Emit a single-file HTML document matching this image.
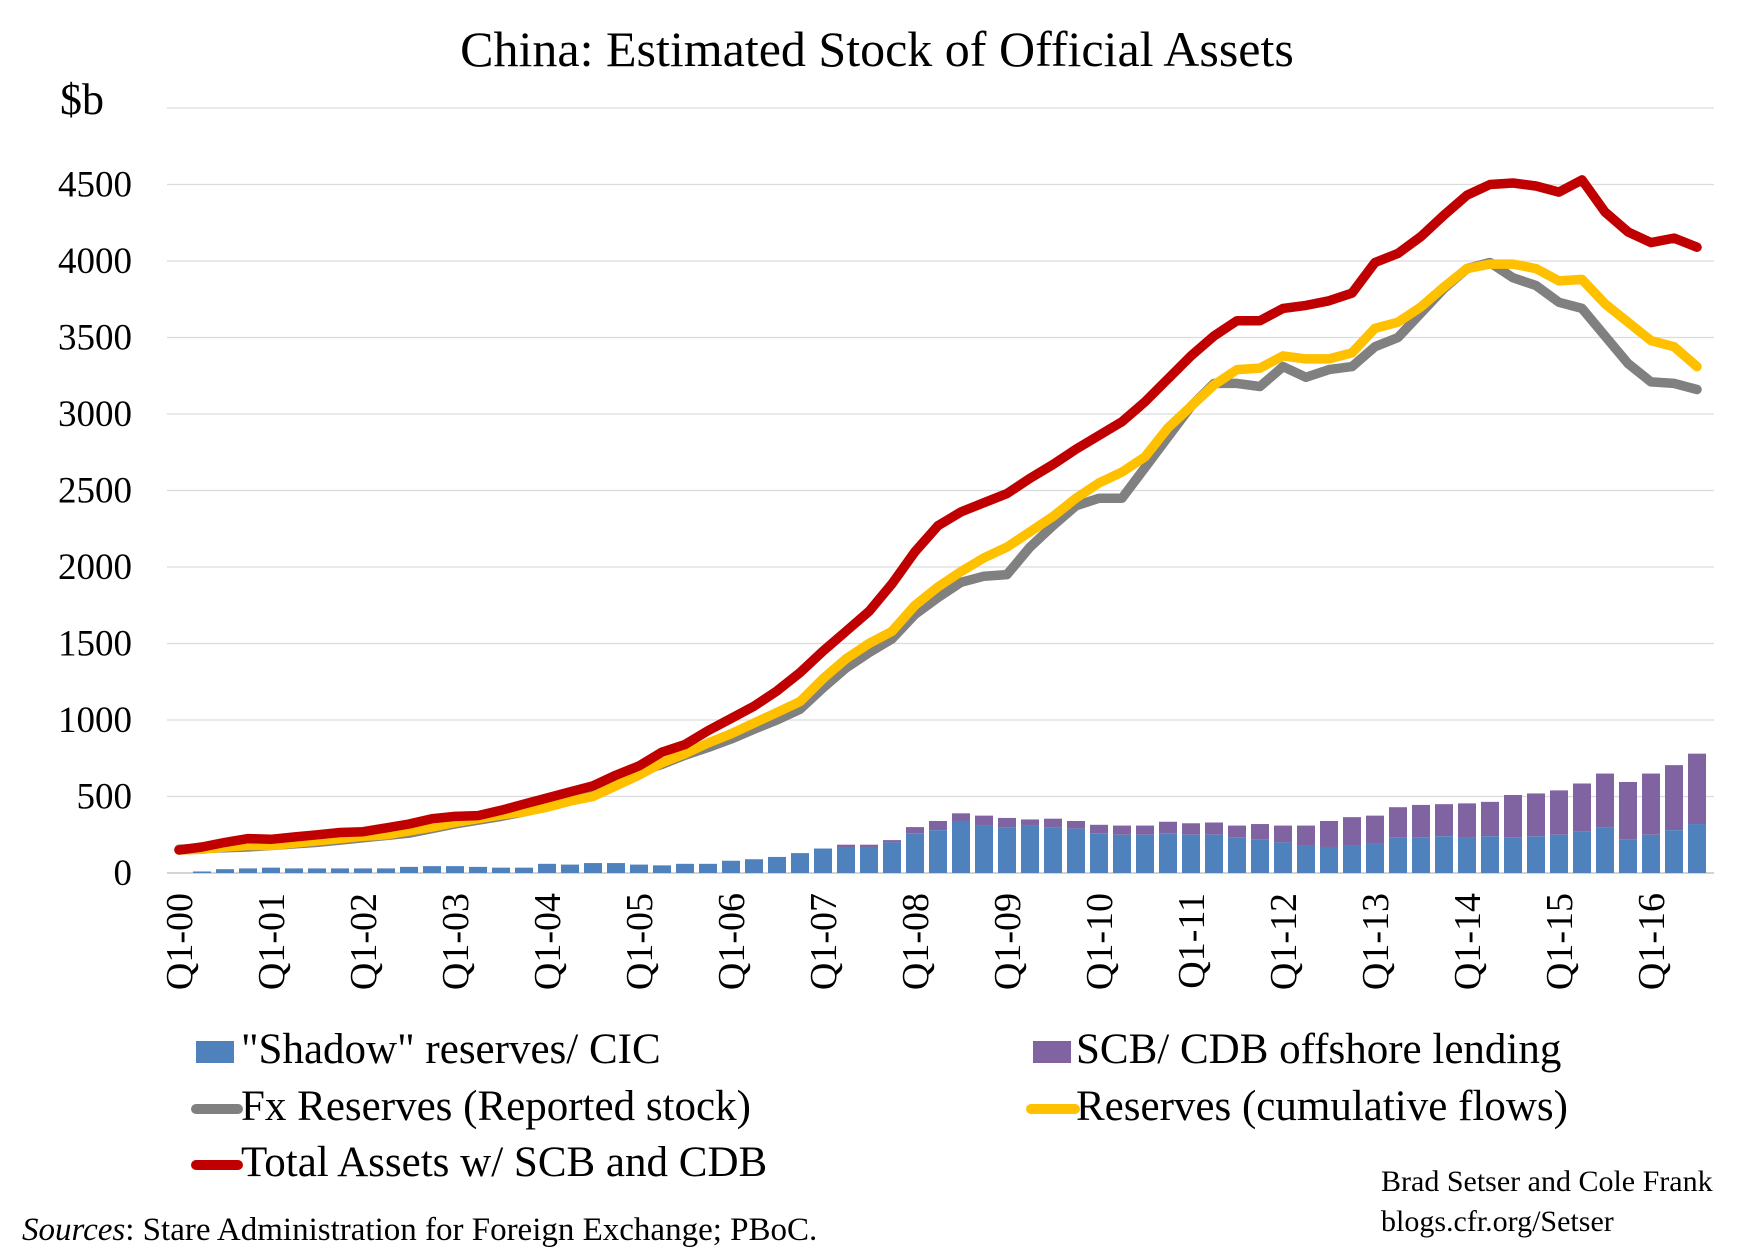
<!DOCTYPE html>
<html><head><meta charset="utf-8"><style>
html,body{margin:0;padding:0;background:#fff}
svg{display:block;font-family:"Liberation Serif",serif}
</style></head><body>
<svg id="c" width="1742" height="1255" viewBox="0 0 1742 1255" xmlns="http://www.w3.org/2000/svg">
<rect width="1742" height="1255" fill="#fff"/>
<text x="877" y="66" font-size="50" text-anchor="middle" fill="#000">China: Estimated Stock of Official Assets</text>
<text x="60" y="114" font-size="44" fill="#000">$b</text>
<g id="grid"></g><g id="bars"></g><g id="lines"></g><g id="xl"></g>
<rect x="196" y="1041" width="38" height="22" fill="#4F81BD"/>
<text x="241" y="1063" font-size="43">"Shadow" reserves/ CIC</text>
<rect x="1033" y="1041" width="38" height="22" fill="#8064A2"/>
<text x="1076" y="1063" font-size="43">SCB/ CDB offshore lending</text>
<line x1="196" y1="1109" x2="238" y2="1109" stroke="#808080" stroke-width="10" stroke-linecap="round"/>
<text x="241" y="1120" font-size="43">Fx Reserves (Reported stock)</text>
<line x1="1031" y1="1109" x2="1075" y2="1109" stroke="#FFC000" stroke-width="10" stroke-linecap="round"/>
<text x="1076" y="1120" font-size="43">Reserves (cumulative flows)</text>
<line x1="196" y1="1165" x2="238" y2="1165" stroke="#C00000" stroke-width="10" stroke-linecap="round"/>
<text x="241" y="1176" font-size="43">Total Assets w/ SCB and CDB</text>
<text x="22" y="1240" font-size="33"><tspan font-style="italic">Sources</tspan>: Stare Administration for Foreign Exchange; PBoC.</text>
<text x="1381" y="1191" font-size="30">Brad Setser and Cole Frank</text>
<text x="1381" y="1231" font-size="30">blogs.cfr.org/Setser</text>
</svg>
<script>
var NS="http://www.w3.org/2000/svg";
function el(t,a,p,txt){var e=document.createElementNS(NS,t);for(var k in a)e.setAttribute(k,a[k]);if(txt!=null)e.textContent=txt;document.getElementById(p).appendChild(e);return e;}
var y0=873,pp=765/5000;function Y(v){return y0-v*pp;}
var x0=179,dx=23.0;function X(i){return x0+i*dx;}
for(var v=0;v<=5000;v+=500){el('line',{x1:167,x2:1714,y1:Y(v),y2:Y(v),stroke:v==0?'#bbb':'#dcdcdc','stroke-width':1.3},'grid');
if(v<5000)el('text',{x:132,y:Y(v)+12,'font-size':37,'text-anchor':'end'},'grid',String(v));}
var red=[150,170,200,225,220,235,250,265,270,295,320,355,370,375,410,450,490,530,570,640,700,790,840,930,1010,1090,1190,1310,1450,1580,1710,1890,2100,2270,2360,2420,2480,2580,2670,2770,2860,2950,3080,3230,3380,3510,3610,3610,3690,3710,3740,3790,3990,4050,4160,4300,4430,4500,4510,4490,4450,4530,4320,4190,4120,4150,4090];
var yel=[150,155,170,180,180,195,210,225,240,250,275,300,330,355,380,400,430,470,500,570,640,720,780,850,910,980,1050,1120,1270,1400,1500,1580,1750,1870,1970,2060,2130,2230,2330,2450,2550,2620,2720,2910,3050,3190,3290,3300,3380,3360,3360,3400,3560,3600,3700,3830,3950,3980,3980,3950,3870,3880,3720,3600,3480,3440,3310];
var gry=[155,160,165,170,180,190,200,215,230,245,260,290,320,345,370,400,440,480,510,580,660,710,770,820,875,940,1000,1070,1210,1340,1440,1530,1690,1800,1900,1940,1950,2130,2270,2400,2450,2450,2650,2850,3050,3200,3200,3180,3310,3240,3290,3310,3440,3500,3660,3820,3950,3990,3890,3840,3730,3690,3510,3330,3210,3200,3160];
var blu=[0,10,25,30,35,30,30,30,30,30,40,45,45,40,35,35,60,55,65,65,55,50,60,60,80,90,105,130,160,170,170,200,260,280,340,310,300,310,300,290,260,250,250,260,250,250,230,220,200,180,170,180,190,230,230,240,235,240,230,240,250,270,300,220,250,280,320,370].slice(0,67);
var tot=[0,10,25,30,35,30,30,30,30,30,40,45,45,40,35,35,60,55,65,65,55,50,60,60,80,90,105,130,160,185,185,215,300,340,390,375,360,350,355,340,315,310,310,335,325,330,310,320,310,310,340,365,375,430,445,450,455,465,510,520,540,585,650,595];
tot=tot.concat([650,705,780]);
for(var i=0;i<67;i++){var b=blu[i],t=Math.max(tot[i],b);
el('rect',{x:X(i)-9,y:Y(t),width:18,height:(t-b)*pp,fill:'#8064A2'},'bars');
el('rect',{x:X(i)-9,y:Y(b),width:18,height:b*pp,fill:'#4F81BD'},'bars');}
function line(d,c){var s=d.map(function(v,i){return X(i).toFixed(1)+','+Y(v).toFixed(1)}).join(' ');
el('polyline',{points:s,fill:'none',stroke:c,'stroke-width':9.5,'stroke-linejoin':'round','stroke-linecap':'round'},'lines');}
line(gry,'#808080');line(yel,'#FFC000');line(red,'#C00000');
for(var k=0;k<=16;k++){var x=X(k*4);var lab='Q1-'+(k<10?'0':'')+k;
el('text',{x:0,y:0,'font-size':38,'text-anchor':'end',transform:'translate('+(x+13)+',893) rotate(-90)'},'xl',lab);}
</script>
</body></html>
